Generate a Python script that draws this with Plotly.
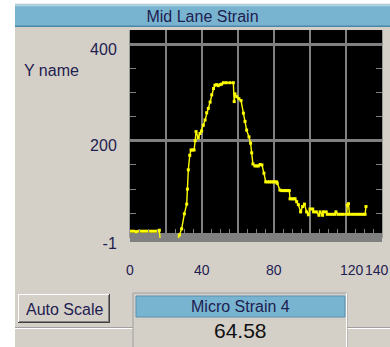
import plotly.graph_objects as go

# ---------------- data ----------------
strain_x = [0.5, 2, 3.5, 5, 6.5, 8, 9.5, 11, 12.5, 14, 15.5, 16.3, 17.2,
            25.8, 27.4, 28.7, 30.2, 31.5, 31.9, 32.4, 33.2, 33.9, 34.8, 35.6,
            36.2, 36.7, 37.9, 38.9, 39.8, 40.7, 41.7, 42.6, 43.5, 44.5, 45.4,
            46.4, 47.2, 48.1, 49.0, 50.0, 50.9, 51.9, 53.5, 55.5, 57.4, 57.9,
            58.3, 59.3, 60.5, 61.7, 63.0, 63.9, 64.8, 66.1, 67.0, 67.6, 68.3,
            69.4, 70.5, 71.3, 72.3, 73.3, 74.4, 75.4, 76.5, 77.5, 78.5, 79.5,
            80.5, 81.5, 81.8, 83.3, 84.3, 85.5, 86.5, 87.5, 88.5, 88.9, 90.0,
            91.0, 91.7, 92.6, 93.5, 94.8, 95.9, 96.9, 98.1, 99.1, 100.0, 101.5,
            102.0, 103.5, 105.0, 105.6, 107.0, 107.5, 109.0, 109.6, 111.0,
            112.5, 113.9, 114.4, 115.7, 117.0, 118.5, 120.4, 120.7, 121.4,
            121.9, 123.5, 125.0, 126.5, 128.0, 129.5, 130.6, 131.1]
strain_y = [13, 13, 12, 13, 13, 13, 13, 13, 13, 13, 13, 15, -25,
            -12, 5, 18, 49, 69, 100, 140, 170, 181, 181, 181,
            200, 219, 206, 215, 220, 232, 243, 258, 267, 280, 295,
            308, 315, 316, 314, 316, 317, 320, 320, 320, 320, 281,
            297, 291, 287, 283, 257, 240, 222, 208, 195, 175, 152,
            148, 148, 148, 151, 150, 133, 115, 115, 115, 115, 115,
            115, 115, 112, 98, 97, 97, 97, 97, 97, 80, 80,
            80, 80, 74, 68, 53, 64, 69, 53, 47, 59, 59,
            53, 53, 46, 53, 46, 53, 53, 48, 48,
            48, 48, 53, 48, 48, 48, 48, 67, 70,
            48, 48, 48, 48, 48, 48, 48, 64]

x_tick_vals = [0, 20, 40, 60, 80, 100, 120, 140]
x_tick_text = ["0", "", "40", "", "80", "", "120", "140"]
y_tick_vals = [-1, 200, 400]
y_tick_text = ["-1", "200", "400"]
x_range = [0, 140]
y_range = [-1, 429]

chart_title = "Mid Lane Strain"
y_label = "Y name"
button_label = "Auto Scale"
indicator_label = "Micro Strain 4"
indicator_value = "64.58"

# ---------------- layout geometry (pixels) ----------------
W, H = 390, 347
PL, PR, PT, PB = 130, 382, 30, 238   # plot area edges in px
BG = "#d4d0c8"
BLUE = "#78b4d0"
GRID = "#808080"
TXT = "#1e2050"
FONT = "Liberation Sans, Arial, sans-serif"
X_LABEL_Y = 270                       # px centre line of the x tick labels
x_label_nudge = {120: 6, 140: -5}      # crowded end labels nudged apart (px)


def fx(p):
    return (p - PL) / (PR - PL)


def fy(p):
    return (PB - p) / (PB - PT)


shapes = []


def rect(x0, y0, x1, y1, fill, line=None, lw=0, layer="below"):
    shapes.append(dict(type="rect", xref="paper", yref="paper",
                       x0=fx(x0), x1=fx(x1), y0=fy(y1), y1=fy(y0),
                       fillcolor=fill, layer=layer,
                       line=dict(color=line or fill, width=lw)))


def hline(x0, x1, y, color, lw=1, layer="below"):
    shapes.append(dict(type="line", xref="paper", yref="paper",
                       x0=fx(x0), x1=fx(x1), y0=fy(y), y1=fy(y),
                       layer=layer, line=dict(color=color, width=lw)))


def vline(x, y0, y1, color, lw=1, layer="below"):
    shapes.append(dict(type="line", xref="paper", yref="paper",
                       x0=fx(x), x1=fx(x), y0=fy(y0), y1=fy(y1),
                       layer=layer, line=dict(color=color, width=lw)))


# white margins left and top
rect(0, 0, 15, H, "#ffffff")
rect(0, 0, W, 4, "#ffffff")
hline(15, W, 4.2, "#c8c8c8")
# title bar
rect(15, 4.8, W, 27, BLUE)
hline(15, W, 5.6, "#a8d6e8", 1.5)
hline(15, W, 26.2, "#4a88a8", 1.5)
# gray band at bottom of plot
rect(PL, 233, PR, 242, GRID, layer="between")
# separator at the bottom
hline(15, W, 327.5, "#a0a0a0")
hline(15, W, 328.5, "#ffffff")
# Auto Scale button
rect(18, 294, 110, 323, BG)
hline(18, 110, 294.5, "#ffffff")
vline(18.5, 294, 323, "#ffffff")
hline(18, 110, 322.5, "#404040")
vline(109.5, 294, 323, "#404040")
hline(19, 109, 321.5, "#808080")
vline(108.5, 295, 322, "#808080")
# indicator
rect(133, 293, 347, H + 2, BG, "#a0a0a0", 1)
vline(346.5, 293, H, "#ffffff")
rect(136, 296, 345, 317, BLUE, "#5a8fb0", 1)

fig = go.Figure()
fig.add_trace(go.Scatter(
    x=strain_x, y=strain_y, mode="lines+markers",
    line=dict(color="#ffff00", width=1.4),
    marker=dict(symbol="square", size=3, color="#ffff00", line=dict(width=0)),
    hoverinfo="skip", showlegend=False))

annotations = [
    dict(text=y_label, x=fx(22), y=fy(70), xref="paper", yref="paper",
         xanchor="left", yanchor="middle", showarrow=False,
         font=dict(family=FONT, size=16, color=TXT)),
    dict(text=button_label, x=fx(64), y=fy(309), xref="paper", yref="paper",
         xanchor="center", yanchor="middle", showarrow=False,
         font=dict(family=FONT, size=16, color=TXT)),
    dict(text=indicator_label, x=fx(240.5), y=fy(306.5), xref="paper", yref="paper",
         xanchor="center", yanchor="middle", showarrow=False,
         font=dict(family=FONT, size=16, color=TXT)),
    dict(text=indicator_value, x=fx(240), y=fy(330), xref="paper", yref="paper",
         xanchor="center", yanchor="middle", showarrow=False,
         font=dict(family=FONT, size=21, color="#101010")),
]
# x tick labels, placed on the x data scale
for v, t in zip(x_tick_vals, x_tick_text):
    if t:
        annotations.append(dict(
            text=t, x=v, xref="x", y=fy(X_LABEL_Y), yref="paper",
            xanchor="center", yanchor="middle", showarrow=False,
            xshift=x_label_nudge.get(v, 0),
            font=dict(family=FONT, size=14, color=TXT)))

fig.update_layout(
    width=W, height=H, autosize=False,
    margin=dict(l=PL, r=W - PR, t=PT, b=H - PB, pad=0, autoexpand=False),
    paper_bgcolor=BG, plot_bgcolor="#000000",
    title=dict(text=chart_title, x=202.5 / W, xanchor="center", xref="container",
               y=1 - 16.5 / H, yanchor="middle", yref="container", automargin=False,
               font=dict(family=FONT, size=16, color=TXT)),
    shapes=shapes, annotations=annotations,
    xaxis=dict(range=x_range, tickmode="array", tickvals=x_tick_vals,
               showticklabels=False, automargin=False,
               showgrid=True, gridcolor=GRID, gridwidth=1.5,
               zeroline=False, showline=False, ticks="inside", ticklen=9,
               tickcolor=GRID,
               minor=dict(dtick=5, tick0=0, ticks="inside", ticklen=9,
                          tickcolor=GRID, showgrid=False),
               fixedrange=True),
    yaxis=dict(range=y_range, tickmode="array", tickvals=y_tick_vals,
               ticktext=y_tick_text, automargin=False,
               showgrid=True, gridcolor=GRID, gridwidth=2.5,
               zeroline=False, showline=True, linecolor="#9a9a9a", linewidth=1,
               mirror="ticks", ticks="inside", ticklen=6, tickcolor=GRID,
               ticklabelstandoff=9, ticklabelshift=5, ticklabeloverflow="allow",
               minor=dict(dtick=50, tick0=0, ticks="inside", ticklen=6,
                          tickcolor=GRID, showgrid=False),
               tickfont=dict(family=FONT, size=16, color=TXT), fixedrange=True),
)

fig.write_html("out.html", config={"displayModeBar": False},
               post_script="document.body.style.margin='0px';")
